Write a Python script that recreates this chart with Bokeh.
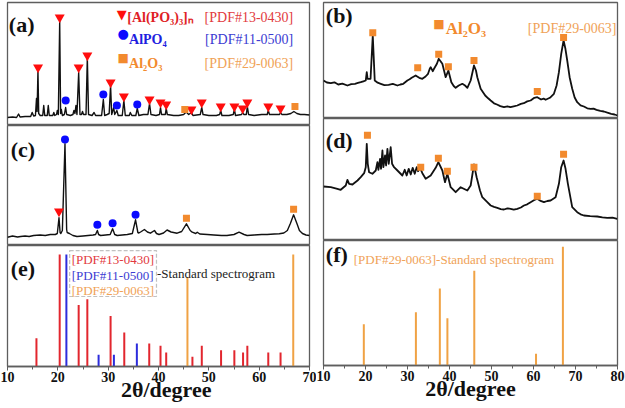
from bokeh.plotting import figure
from bokeh.layouts import row, column
from bokeh.models import Range1d, Label, BoxAnnotation, SingleIntervalTicker
from bokeh.embed import file_html
from bokeh.resources import INLINE

# ---------------- data ----------------
# (a) sample pattern: 2theta / intensity (a.u.)
a_x = [10.0, 11.0, 11.8, 12.2, 12.5, 13.5, 14.6, 14.9, 15.2, 15.55, 15.76, 15.88, 16.05, 16.2, 16.5,
       17.0, 17.2, 17.4, 17.9, 18.1, 18.3, 19.0, 19.2, 19.4, 19.75, 19.9, 20.1, 20.37, 20.55, 20.7,
       20.9, 21.3, 21.55, 21.75, 22.5, 23.0, 23.2, 23.4, 23.6, 23.8, 24.14, 24.4, 24.7, 24.9, 25.1,
       25.6, 25.86, 26.1, 26.8, 27.2, 27.5, 28.7, 29.04, 29.3, 29.8, 30.2, 30.48, 30.7, 31.1, 31.3,
       31.73, 32.0, 32.8, 33.12, 33.4, 34.2, 34.4, 34.7, 35.5, 35.78, 36.1, 37.0, 37.9, 38.22, 38.5,
       39.5, 40.2, 40.4, 40.6, 41.35, 41.53, 41.75, 43.0, 44.0, 45.0, 45.5, 46.0, 46.55, 46.85, 48.3,
       48.59, 48.85, 50.0, 51.5, 52.15, 52.36, 52.6, 54.0, 54.85, 55.08, 55.3, 56.5, 56.72, 56.95, 57.45,
       57.65, 57.9, 59.0, 60.5, 61.6, 61.81, 62.05, 63.0, 64.05, 64.25, 64.5, 65.5, 66.3, 66.9, 67.5,
       68.2, 69.0, 70.0]
a_y = [8.0, 8.5, 8.0, 11.5, 8.5, 9.0, 9.0, 13.0, 9.5, 10.0, 27.0, 14.0, 55.0, 12.0, 10.0,
       10.0, 20.0, 10.0, 10.0, 20.0, 10.0, 10.0, 13.0, 10.0, 11.0, 15.0, 11.0, 104.0, 12.0, 16.0,
       10.0, 11.0, 18.0, 11.0, 10.0, 11.0, 15.0, 12.0, 20.0, 11.0, 53.0, 11.0, 11.0, 14.0, 11.0,
       11.0, 68.0, 11.0, 10.0, 13.0, 10.0, 10.0, 26.0, 10.0, 11.0, 12.0, 40.0, 11.0, 18.0, 11.0,
       15.0, 10.0, 10.0, 25.0, 10.0, 10.0, 13.0, 10.0, 10.0, 17.0, 10.0, 11.0, 11.0, 22.0, 11.0,
       10.0, 11.0, 18.0, 11.0, 11.0, 17.0, 11.0, 10.0, 10.0, 11.0, 13.5, 11.0, 13.0, 10.0, 11.0,
       18.0, 11.0, 10.0, 10.0, 11.0, 15.0, 10.0, 10.0, 11.0, 16.0, 10.0, 11.0, 13.0, 11.0, 11.0,
       19.0, 11.0, 10.0, 11.0, 11.0, 15.0, 11.0, 11.0, 11.0, 13.0, 11.0, 11.0, 12.0, 14.0, 12.0,
       11.0, 11.0, 10.5]

a_tri_x = [16.07, 20.37, 24.14, 25.86, 30.48, 33.12, 38.22, 40.40, 41.53, 46.55, 48.59, 52.36,
           55.08, 56.72, 57.65, 61.81, 64.25]
a_tri_y = [58, 108, 58, 70, 43, 29, 26, 23, 21, 16, 23, 19, 19, 17, 23, 19, 17]
a_cir_x = [21.56, 29.04, 31.73, 35.78]
a_cir_y = [25, 31, 20, 21]
a_sq_x = [45.22, 67.11]
a_sq_y = [16, 19]

# (c) sample pattern
c_x = [10.0, 11.0, 12.0, 12.6, 13.5, 14.3, 15.2, 16.5, 17.5, 18.5, 19.5, 19.9, 20.23, 20.45, 20.6,
       20.9, 21.42, 21.75, 21.85, 22.3, 23.0, 23.8, 25.0, 26.0, 27.0, 27.5, 27.85, 28.1, 28.5, 29.5,
       30.4, 30.88, 31.3, 31.8, 32.8, 33.8, 34.8, 35.44, 35.9, 36.1, 36.6, 37.2, 37.8, 38.4, 39.2,
       39.6, 40.1, 41.0, 41.7, 42.5, 43.7, 44.6, 45.55, 46.3, 46.7, 47.4, 47.7, 48.2, 49.7, 51.0,
       52.5, 53.6, 55.0, 56.0, 57.0, 57.6, 59.0, 60.5, 61.6, 63.0, 64.0, 64.9, 65.6, 66.2, 66.84,
       67.5, 68.0, 68.6, 69.3, 70.0]
c_y = [8.3, 9.5, 8.5, 9.0, 9.5, 9.0, 10.0, 10.5, 10.0, 11.0, 11.0, 12.0, 27.7, 13.0, 12.0,
       15.0, 101.7, 16.0, 13.0, 12.0, 10.0, 9.0, 9.5, 10.0, 10.5, 11.0, 15.0, 11.0, 10.0, 10.5,
       11.0, 16.7, 11.0, 10.0, 10.5, 11.0, 12.0, 25.7, 13.0, 12.5, 14.0, 16.0, 13.5, 12.3, 15.0,
       12.0, 11.0, 12.5, 15.5, 13.5, 12.3, 14.0, 21.7, 15.0, 13.3, 12.0, 13.3, 11.5, 11.0, 10.5,
       10.0, 10.0, 11.0, 13.3, 11.0, 10.0, 10.5, 11.0, 11.0, 11.5, 11.7, 12.5, 15.0, 22.0, 30.7,
       22.0, 15.0, 12.0, 10.5, 10.0]
c_tri_x = [20.23]
c_tri_y = [34]
c_cir_x = [21.42, 27.85, 30.88, 35.44]
c_cir_y = [106, 20.7, 22.3, 30.7]
c_sq_x = [45.55, 66.84]
c_sq_y = [27.3, 36.3]

# (e) standard cards (relative intensity)
e_red_x = [15.75, 20.37, 24.14, 25.86, 30.48, 33.2, 38.16, 40.4, 41.53, 46.74, 48.6, 52.43,
           55.07, 56.8, 57.65, 61.81, 64.25]
e_red_y = [25.3, 100, 55, 60, 45, 30.4, 20.5, 18.5, 12.5, 8.6, 18.5, 14.6, 14.6, 12.5, 18.5, 12.5, 12.5]
e_blue_x = [21.7, 28.1, 31.14, 35.7]
e_blue_y = [100, 10.4, 10.4, 20.5]
e_orange_x = [45.75, 66.77]
e_orange_y = [79.8, 100]

# (b) sample pattern
b_x = [10.0, 10.8, 11.74, 12.6, 13.5, 14.5, 15.7, 16.6, 17.5, 18.2, 18.87, 19.5, 20.06, 20.3,
       20.5, 21.2, 21.73, 22.2, 22.9, 23.63, 24.5, 25.5, 26.5, 27.6, 28.3, 29.0, 29.97, 30.5,
       31.0, 31.95, 32.4, 32.8, 33.54, 34.3, 34.89, 35.3, 35.52, 36.0, 36.32, 37.0, 37.43, 38.3,
       38.8, 39.09, 39.73, 40.44, 41.0, 41.47, 42.2, 43.06, 43.7, 44.25, 45.04, 45.83, 46.3,
       46.62, 47.42, 48.5, 49.2, 49.8, 50.6, 51.3, 52.1, 52.97, 53.8, 54.5, 55.3, 56.14, 57.0,
       57.7, 58.5, 59.31, 60.2, 60.9, 61.8, 62.4, 62.88, 63.9, 64.86, 65.5, 66.05, 66.6, 67.16,
       67.6, 68.03, 68.6, 69.22, 69.8, 70.41, 71.2, 72.0, 72.8, 73.58, 74.3, 75.0, 75.9, 76.75,
       77.6, 78.5, 79.3, 80.0]
b_y = [38.0, 36.0, 35.3, 36.2, 34.0, 34.8, 33.0, 34.3, 34.7, 35.6, 36.3, 37.2, 38.0, 46.3,
       39.7, 39.7, 83.0, 38.0, 35.8, 34.7, 33.4, 33.7, 34.6, 33.0, 34.0, 34.7, 38.0, 39.2,
       40.7, 43.0, 41.8, 40.7, 39.7, 42.0, 44.7, 49.7, 51.3, 47.3, 49.7, 54.7, 59.7, 54.7,
       46.3, 41.3, 48.0, 36.3, 32.5, 30.7, 33.0, 34.7, 33.0, 30.7, 38.0, 53.0, 48.0,
       41.3, 29.7, 23.0, 20.2, 18.0, 15.2, 14.0, 12.4, 11.3, 12.2, 11.3, 12.1, 13.0, 14.6,
       15.3, 17.1, 18.0, 20.7, 21.3, 19.0, 19.9, 18.7, 20.7, 24.7, 33.0, 46.3, 64.7, 78.0,
       69.7, 58.0, 41.3, 29.7, 21.0, 16.3, 13.2, 12.0, 10.2, 9.7, 9.9, 8.7, 7.6, 7.0,
       5.8, 4.7, 4.0, 3.0]
b_sq_x = [21.73, 32.43, 37.43, 39.73, 45.83, 60.9, 67.16]
b_sq_y = [85.7, 50.7, 64.3, 51.7, 58.0, 27.0, 81.0]

# (d) sample pattern
d_x = [10.0, 11.74, 13.3, 14.1, 15.3, 15.7, 16.1, 16.9, 18.1, 18.87, 19.67, 20.06, 20.3, 20.54,
       20.85, 21.65, 22.44, 22.84, 23.07, 23.47, 23.7, 24.03, 24.26, 24.66, 24.9, 25.22, 25.53,
       26.0, 26.33, 26.8, 27.6, 28.78, 29.34, 29.8, 30.29, 30.77, 31.24, 31.72, 32.19, 32.51,
       32.99, 33.54, 34.33, 35.52, 36.71, 37.35, 38.3, 38.93, 39.49, 40.28, 41.47, 42.66, 44.25,
       45.04, 45.83, 46.46, 47.26, 47.81, 49.0, 49.8, 50.6, 51.38, 52.2, 52.97, 53.8, 54.55, 55.3,
       56.14, 57.0, 57.72, 58.5, 59.31, 60.1, 60.9, 61.7, 62.48, 63.3, 64.07, 65.26, 66.05, 66.6,
       67.16, 67.63, 68.19, 69.22, 70.41, 71.2, 72.0, 73.5, 75.17, 76.4, 77.55, 78.8, 79.93]
d_y = [54.0, 53.3, 51.7, 50.7, 55.0, 60.7, 56.7, 56.0, 60.0, 63.3, 67.3, 73.3, 96.7, 76.7,
       68.3, 66.7, 70.0, 78.3, 70.7, 81.7, 71.7, 90.0, 73.3, 85.0, 75.0, 91.7, 76.7,
       93.3, 76.7, 73.3, 70.0, 65.0, 70.7, 65.0, 71.7, 66.0, 72.7, 66.7, 73.3, 69.3,
       72.7, 67.3, 61.7, 65.0, 72.7, 78.3, 70.0, 58.3, 66.7, 53.3, 48.3, 53.3, 50.0,
       55.0, 76.0, 63.3, 50.0, 43.3, 38.3, 35.0, 33.6, 32.7, 31.4, 31.0, 32.2, 31.7, 30.8,
       31.7, 33.0, 35.0, 36.2, 38.3, 40.2, 41.7, 39.6, 38.3, 39.5, 40.0, 43.3, 56.7, 73.3,
       80.0, 71.7, 56.7, 33.3, 28.3, 26.2, 25.0, 24.4, 24.0, 23.2, 22.7, 22.9, 21.7]
d_sq_x = [20.46, 33.15, 37.35, 39.49, 45.83, 60.9, 67.16]
d_sq_y = [105.3, 73.3, 82.3, 69.3, 73.3, 44.3, 86.3]

# (f) standard card PDF#29-0063 (relative intensity)
f_x = [19.6, 32.0, 37.7, 39.5, 45.9, 60.6, 67.0]
f_y = [34.8, 44.9, 64.9, 39.9, 79.8, 9.8, 100.0]

x_title = "2\u03B8/degree"

# ---------------- styling ----------------
SERIF = "Liberation Serif"
FRAME = "#5e5e5e"
RED_M, BLUE_M, ORANGE_M = "#ff0d0d", "#0a0aff", "#f28a2e"
RED_T, BLUE_T, ORANGE_T = "#e23a40", "#3c3cd2", "#f0a257"
RED_S, BLUE_S, ORANGE_S = "#e2262e", "#2c2cdc", "#f0a244"


def make_fig(xr, yr, w, h, bl, br, bt, bb, axis=False, title_pad=""):
    p = figure(width=w, height=h, x_range=Range1d(*xr), y_range=Range1d(*yr),
               output_backend="svg", toolbar_location=None,
               x_axis_location="below" if axis else None, y_axis_location=None,
               min_border=0, min_border_left=bl, min_border_right=br,
               min_border_top=bt, min_border_bottom=bb)
    p.outline_line_color = FRAME
    p.outline_line_width = 1.3
    p.background_fill_color = "white"
    p.border_fill_color = "white"
    for g in p.grid:
        g.visible = False
    if axis:
        ax = p.xaxis[0]
        ax.ticker = SingleIntervalTicker(interval=10, num_minor_ticks=2)
        ax.axis_line_color = FRAME
        ax.axis_line_width = 1.3
        ax.major_tick_line_color = FRAME
        ax.minor_tick_line_color = FRAME
        ax.major_tick_in = 0
        ax.major_tick_out = 4
        ax.minor_tick_in = 0
        ax.minor_tick_out = 3
        ax.major_label_text_font = SERIF
        ax.major_label_text_font_style = "bold"
        ax.major_label_text_font_size = "14px"
        ax.major_label_text_color = "#111111"
        ax.major_label_standoff = 1
        ax.axis_label = title_pad + x_title
        ax.axis_label_text_font = SERIF
        ax.axis_label_text_font_style = "bold"
        ax.axis_label_text_font_size = "22px"
        ax.axis_label_text_color = "#111111"
        ax.axis_label_standoff = -8
    return p


def label(p, x, y, text, size, color="#111111", bold=False, align="left",
          baseline="alphabetic", font=SERIF):
    p.add_layout(Label(x=x, y=y, text=text, text_font=font, text_font_size=size,
                       text_font_style="bold" if bold else "normal", text_color=color,
                       text_align=align, text_baseline=baseline))


def curve(p, xs, ys, lw=1.4):
    p.line(xs, ys, line_color="#111111", line_width=lw, line_join="round")


# ---------------- left column ----------------
pa = make_fig((10, 70), (0, 123), 316, 125, 7, 7, 2, 0)
curve(pa, a_x, a_y)
pa.scatter(a_tri_x, a_tri_y, marker="inverted_triangle", size=10, fill_color=RED_M, line_color=None)
pa.scatter(a_cir_x, a_cir_y, marker="circle", size=8, fill_color=BLUE_M, line_color=None)
pa.scatter(a_sq_x, a_sq_y, marker="square", size=7, fill_color=ORANGE_M, line_color=None)
label(pa, 10.26, 101.5, "(a)", "22px", bold=True)
label(pa, 32.7, 111.5, "\u25BC", "13px", color=RED_M, align="center", baseline="middle", font="DejaVu Sans")
label(pa, 33.0, 91.7, "\u25CF", "13px", color=BLUE_M, align="center", baseline="middle", font="DejaVu Sans")
label(pa, 33.0, 67.7, "\u25A0", "12px", color=ORANGE_M, align="center", baseline="middle", font="DejaVu Sans")
label(pa, 33.8, 107.7, "[Al(PO\u2083)\u2083]\u2099", "14px", color="#e01e26", bold=True)
label(pa, 34.15, 86.3, "AlPO\u2084", "14px", color="#1e1ee0", bold=True)
label(pa, 34.15, 62.3, "Al\u2082O\u2083", "14px", color=ORANGE_M, bold=True)
label(pa, 66.77, 107.7, "[PDF#13-0430]", "14px", color=RED_T, align="right")
label(pa, 66.77, 86.3, "[PDF#11-0500]", "14px", color=BLUE_T, align="right")
label(pa, 66.77, 62.3, "[PDF#29-0063]", "14px", color=ORANGE_T, align="right")

pc = make_fig((10, 70), (0, 120), 316, 120, 7, 7, 0, 0)
curve(pc, c_x, c_y)
pc.scatter(c_tri_x, c_tri_y, marker="inverted_triangle", size=10, fill_color=RED_M, line_color=None)
pc.scatter(c_cir_x, c_cir_y, marker="circle", size=8, fill_color=BLUE_M, line_color=None)
pc.scatter(c_sq_x, c_sq_y, marker="square", size=7, fill_color=ORANGE_M, line_color=None)
label(pc, 10.65, 96, "(c)", "22px", bold=True)

pe = make_fig((10, 70), (0, 108), 316, 163, 7, 7, 0, 42, axis=True, title_pad="\u2002\u2009")
pe.segment(e_red_x, [0] * len(e_red_x), e_red_x, e_red_y, line_color=RED_S, line_width=2)
pe.segment(e_blue_x, [0] * len(e_blue_x), e_blue_x, e_blue_y, line_color=BLUE_S, line_width=2)
pe.segment(e_orange_x, [0] * len(e_orange_x), e_orange_x, e_orange_y, line_color=ORANGE_S, line_width=2)
pe.add_layout(BoxAnnotation(left=22.35, right=39.6, bottom=62.5, top=103.5, fill_alpha=0,
                            line_color="#333333", line_width=1.2, line_dash="4 2"))
label(pe, 10.65, 87.5, "(e)", "22px", bold=True)
label(pe, 22.75, 95.2, "[PDF#13-0430]", "13px", color=RED_T)
label(pe, 22.75, 81.2, "[PDF#11-0500]", "13px", color=BLUE_T)
label(pe, 22.75, 67.8, "[PDF#29-0063]", "13px", color=ORANGE_T)
label(pe, 39.7, 83.4, "-Standard spectrogram", "13px", color="#222222")

# ---------------- right column ----------------
pb = make_fig((10, 80), (0, 116), 309, 118, 7, 8, 2, 0)
curve(pb, b_x, b_y, 1.8)
pb.scatter(b_sq_x, b_sq_y, marker="square", size=7, fill_color=ORANGE_M, line_color=None)
label(pb, 10.55, 103.5, "(b)", "22px", bold=True)
label(pb, 37.5, 94.7, "\u25A0", "12px", color=ORANGE_M, align="center", baseline="middle", font="DejaVu Sans")
label(pb, 39.09, 89.7, "Al\u2082O\u2083", "17px", color=ORANGE_M, bold=True)
label(pb, 79.77, 90, "[PDF#29-0063]", "14px", color=ORANGE_T, align="right")

pd = make_fig((10, 80), (0, 122), 309, 122, 7, 8, 0, 0)
curve(pd, d_x, d_y, 1.8)
pd.scatter(d_sq_x, d_sq_y, marker="square", size=7, fill_color=ORANGE_M, line_color=None)
label(pd, 10.55, 100, "(d)", "22px", bold=True)

pf = make_fig((10, 80), (0, 105.3), 309, 168, 7, 8, 0, 43, axis=True)
pf.segment(f_x, [0] * len(f_x), f_x, f_y, line_color=ORANGE_S, line_width=2)
label(pf, 10.55, 93.2, "(f)", "22px", bold=True)
label(pf, 17.2, 89.6, "[PDF#29-0063]-Standard spectrogram", "13px", color=ORANGE_T)

layout = row(column(pa, pc, pe, spacing=0), column(pb, pd, pf, spacing=0), spacing=0)

open("out.html", "w").write(file_html(layout, INLINE))
